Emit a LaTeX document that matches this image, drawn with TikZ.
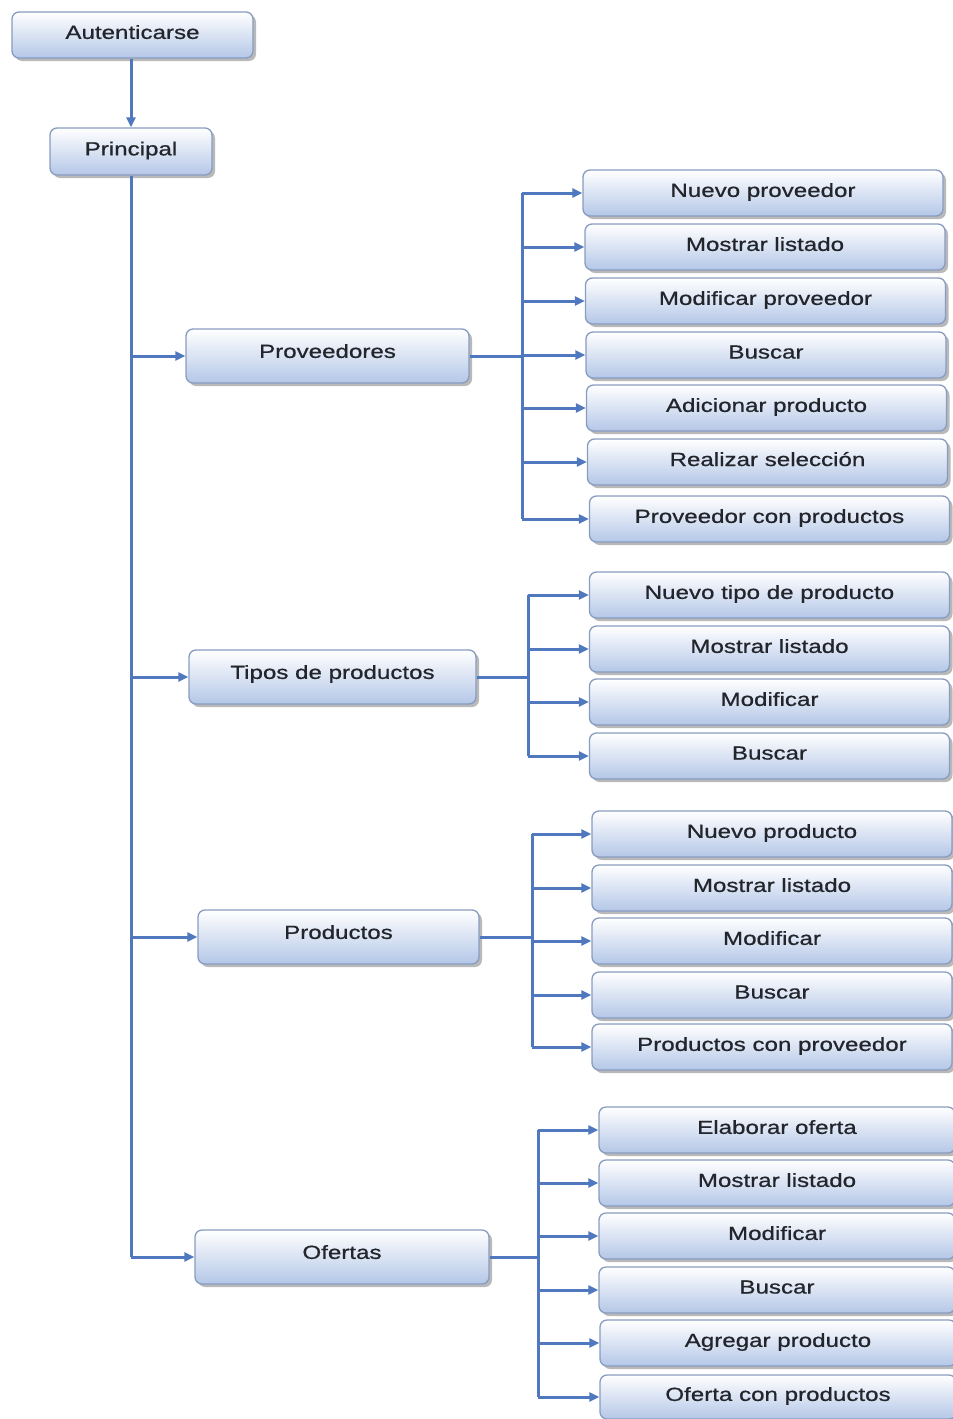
\documentclass[tikz,border=0pt]{standalone}
\usepackage{fontspec}
\usetikzlibrary{arrows.meta,shadows}
\newfontfamily\boxfont[FakeStretch=1.27,FakeBold=0.7]{Liberation Sans}
\definecolor{boxborder}{RGB}{136,156,192}
\definecolor{boxbottom}{RGB}{180,199,231}
\definecolor{linkblue}{RGB}{80,120,190}
\definecolor{textdark}{RGB}{34,38,44}
\tikzset{
  box/.style={draw=boxborder, line width=1.3pt, rounded corners=7pt,
    top color=white, bottom color=boxbottom,
    drop shadow={shadow xshift=3pt, shadow yshift=-3pt, fill=black!50, opacity=0.55},
    font=\boxfont\fontsize{19}{22}\selectfont, text=textdark,
    inner sep=0pt, minimum height=46pt, text depth=6pt},
  lvltwo/.style={box, minimum height=54pt, text depth=10pt},
  leaf/.style={box, minimum width=360pt},
  link/.style={draw=linkblue, line width=3pt},
  arr/.style={link, -{Triangle[length=10pt,width=9pt]}}
}
\begin{document}
\begin{tikzpicture}[x=1pt,y=-1pt]
\useasboundingbox (0,0) rectangle (953,1419);

% top of the hierarchy
\node[box, minimum width=241pt] (aut) at (132.5,35) {Autenticarse};
\node[box, minimum width=162pt, minimum height=47pt] (prin) at (131,151.5) {Principal};

% second level
\node[lvltwo, minimum width=283pt] (prov) at (327.5,356) {Proveedores};
\node[lvltwo, minimum width=287pt] (tipo) at (332.5,677) {Tipos de productos};
\node[lvltwo, minimum width=281pt] (prod) at (338.5,937) {Productos};
\node[lvltwo, minimum width=294pt] (ofe) at (342,1257) {Ofertas};

% Proveedores
\node[leaf] (p1) at (763,193) {Nuevo proveedor};
\node[leaf] (p2) at (765,247) {Mostrar listado};
\node[leaf] (p3) at (765.5,301) {Modificar proveedor};
\node[leaf] (p4) at (766,355) {Buscar};
\node[leaf] (p5) at (766.5,408) {Adicionar producto};
\node[leaf] (p6) at (767.5,462) {Realizar selección};
\node[leaf] (p7) at (769.5,519) {Proveedor con productos};

% Tipos de productos
\node[leaf] (t1) at (769.5,595) {Nuevo tipo de producto};
\node[leaf] (t2) at (769.5,649) {Mostrar listado};
\node[leaf] (t3) at (769.5,702) {Modificar};
\node[leaf] (t4) at (769.5,756) {Buscar};

% Productos
\node[leaf] (r1) at (772,834) {Nuevo producto};
\node[leaf] (r2) at (772,888) {Mostrar listado};
\node[leaf] (r3) at (772,941) {Modificar};
\node[leaf] (r4) at (772,995) {Buscar};
\node[leaf] (r5) at (772,1047) {Productos con proveedor};

% Ofertas
\node[leaf, minimum width=356pt] (o1) at (777,1130) {Elaborar oferta};
\node[leaf, minimum width=356pt] (o2) at (777,1183) {Mostrar listado};
\node[leaf, minimum width=356pt] (o3) at (777,1236) {Modificar};
\node[leaf, minimum width=356pt] (o4) at (777,1290) {Buscar};
\node[leaf, minimum width=356pt] (o5) at (778,1343) {Agregar producto};
\node[leaf, minimum width=356pt, minimum height=44pt] (o6) at (778,1397) {Oferta con productos};

% main trunk
\draw[arr] (prin.north |- aut.south) -- (prin.north);
\draw[link] (prin.south) -- (prin.south |- ofe.west);
\foreach \n in {prov,tipo,prod,ofe}
  \draw[arr] (prin.south |- \n.west) -- (\n.west);

% branch buses
\coordinate (pb) at (522,0);
\coordinate (tb) at (528,0);
\coordinate (rb) at (532,0);
\coordinate (ob) at (538,0);

\draw[link] (prov.east) -- (prov.east -| pb);
\draw[link] (pb |- p1.west) -- (pb |- p7.west);
\foreach \n in {p1,p2,p3,p4,p5,p6,p7}
  \draw[arr] (pb |- \n.west) -- (\n.west);

\draw[link] (tipo.east) -- (tipo.east -| tb);
\draw[link] (tb |- t1.west) -- (tb |- t4.west);
\foreach \n in {t1,t2,t3,t4}
  \draw[arr] (tb |- \n.west) -- (\n.west);

\draw[link] (prod.east) -- (prod.east -| rb);
\draw[link] (rb |- r1.west) -- (rb |- r5.west);
\foreach \n in {r1,r2,r3,r4,r5}
  \draw[arr] (rb |- \n.west) -- (\n.west);

\draw[link] (ofe.east) -- (ofe.east -| ob);
\draw[link] (ob |- o1.west) -- (ob |- o6.west);
\foreach \n in {o1,o2,o3,o4,o5,o6}
  \draw[arr] (ob |- \n.west) -- (\n.west);
\end{tikzpicture}
\end{document}
